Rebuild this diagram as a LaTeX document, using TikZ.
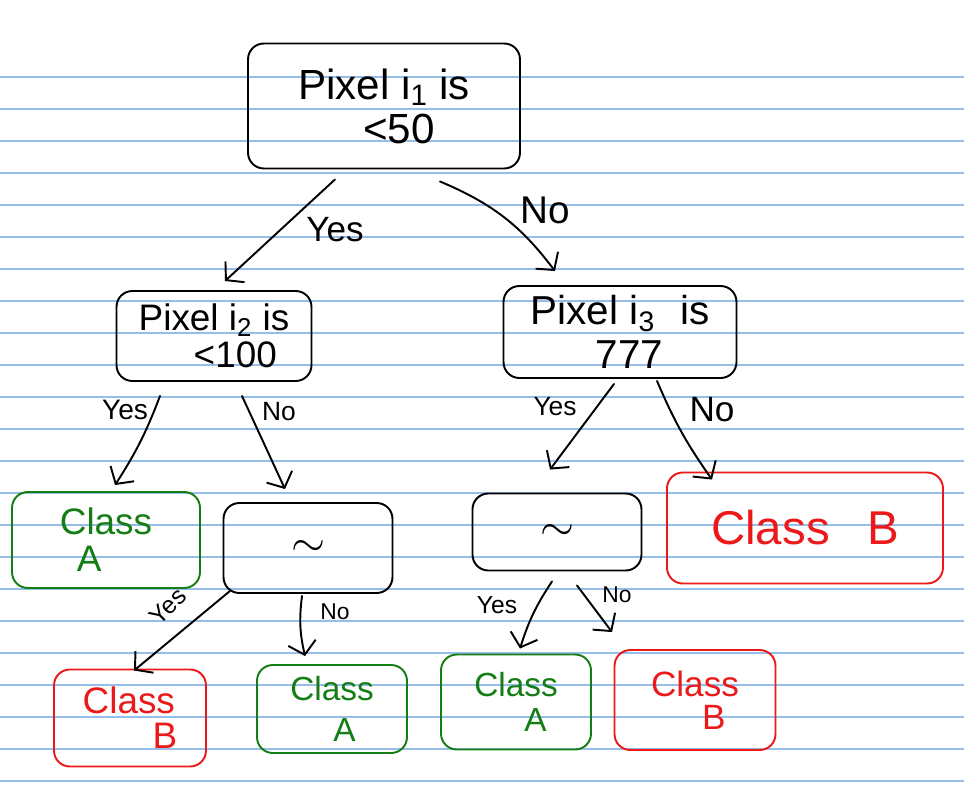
\documentclass[tikz,border=0pt]{standalone}
\usepackage{fontspec}
\setmainfont{Liberation Sans}
\usetikzlibrary{arrows.meta}

\definecolor{ruleblue}{RGB}{150,190,235}
\definecolor{leafgreen}{RGB}{20,125,20}
\definecolor{leafred}{RGB}{235,25,25}

\begin{document}
\begin{tikzpicture}[
    x=0.02cm, y=-0.02cm,
    %% linky papiera
    ruled/.style={draw=ruleblue, line width=0.6pt},
    %% rozhodovací uzol
    box/.style={
        draw, line width=1.1pt, rounded corners=9pt, inner sep=0pt, align=left
    },
    leafA/.style={box, draw=leafgreen, text=leafgreen},
    leafB/.style={box, draw=leafred, text=leafred},
    %% hrana s ručnou šípkou
    arr/.style={draw, line width=1.1pt, line cap=round,
        -{Straight Barb[length=7pt, width=16pt, line width=1.1pt]}},
    lbl/.style={inner sep=0pt}
]

%% Pozadie — linajkový papier
\fill[white] (0,0) rectangle (964,791);
\useasboundingbox (0,0) rectangle (964,791);
\foreach \k in {0,...,22} {
    \draw[ruled] (0,{77+32*\k}) -- (964,{77+32*\k});
}

%% Koreň
\node[box, minimum width=5.44cm, minimum height=2.5cm,
      font=\fontsize{24}{25}\selectfont] (root) at (384,106)
    {Pixel i\textsubscript{1} is\\\hspace*{1.3cm}<50};

%% Druhá úroveň
\node[box, minimum width=3.9cm, minimum height=1.8cm,
      font=\fontsize{21}{21}\selectfont] (n2l) at (214,336)
    {Pixel i\textsubscript{2} is\\\hspace*{1.1cm}<100};
\node[box, minimum width=4.66cm, minimum height=1.84cm,
      font=\fontsize{23}{25}\selectfont] (n2r) at (620,332)
    {Pixel i\textsubscript{3}\hspace{0.5cm}is\\\hspace*{1.3cm}777};

%% Tretia úroveň
\node[leafA, minimum width=3.76cm, minimum height=1.92cm,
      font=\fontsize{21}{21}\selectfont] (a1) at (106,540)
    {Class\\\hspace*{0.34cm}A};
\node[box, minimum width=3.38cm, minimum height=1.8cm,
      font=\fontsize{58}{58}\selectfont] (t1) at (308,548) {$\sim$};
\node[box, minimum width=3.38cm, minimum height=1.54cm,
      font=\fontsize{58}{58}\selectfont] (t2) at (557,532) {$\sim$};
\node[leafB, minimum width=5.52cm, minimum height=2.22cm,
      font=\fontsize{27}{27}\selectfont] (b1) at (805,528)
    {Class\hspace{0.75cm}B};

%% Listy
\node[leafB, minimum width=3.04cm, minimum height=1.94cm,
      font=\fontsize{21}{20}\selectfont] (b2) at (130,718)
    {Class\\\hspace*{1.4cm}B};
\node[leafA, minimum width=3.0cm, minimum height=1.76cm,
      font=\fontsize{19}{23}\selectfont] (a2) at (332,709)
    {Class\\\hspace*{0.86cm}A};
\node[leafA, minimum width=3.0cm, minimum height=1.9cm,
      font=\fontsize{19}{20}\selectfont] (a3) at (516,702)
    {Class\\\hspace*{1.0cm}A};
\node[leafB, minimum width=3.22cm, minimum height=2.0cm,
      font=\fontsize{20}{19}\selectfont] (b3) at (695,700)
    {Class\\\hspace*{1.02cm}B};

%% Hrany z koreňa
\draw[arr] ([shift={(-49,10)}]root.south) -- ([shift={(11,-9)}]n2l.north);
\draw[arr] ([shift={(56,12)}]root.south) to[bend left=15] ([shift={(-65,-14)}]n2r.north);

%% Hrany z druhej úrovne
\draw[arr] ([shift={(-54,14)}]n2l.south) to[bend left=6] ([shift={(9,-6)}]a1.north);
\draw[arr] ([shift={(28,14)}]n2l.south) -- ([shift={(-23,-13)}]t1.north);
\draw[arr] ([shift={(-6,5)}]n2r.south) -- ([shift={(-7,-23)}]t2.north);
\draw[arr] ([shift={(37,2)}]n2r.south) to[bend right=6] ([shift={(-93,8)}]b1.north);

%% Hrany z tretej úrovne
\draw[arr] ([shift={(-78,-3)}]t1.south) -- ([shift={(4,2)}]b2.north);
\draw[arr] ([shift={(-6,2)}]t1.south) to[bend right=10] ([shift={(-27,-8)}]a2.north);
\draw[arr] ([shift={(-5,10)}]t2.south) to[bend right=8] ([shift={(4,-5)}]a3.north);
\draw[arr] ([shift={(20,14)}]t2.south) -- ([shift={(-83,-17)}]b3.north);

%% Popisy hrán
\node[lbl, font=\fontsize{20}{20}\selectfont] (yes1) at (335,230) {Yes};
\node[lbl, font=\fontsize{22}{22}\selectfont] (no1)  at (545,210) {No};
\node[lbl, font=\fontsize{16}{16}\selectfont] (yes2) at (125,410) {Yes};
\node[lbl, font=\fontsize{15}{15}\selectfont] (no2)  at (279,412) {No};
\node[lbl, font=\fontsize{15}{15}\selectfont] (yes3) at (555,407) {Yes};
\node[lbl, font=\fontsize{20}{20}\selectfont] (no3)  at (712,410) {No};
\node[lbl, font=\fontsize{14}{14}\selectfont, rotate=45] (yes4) at (168,606) {Yes};
\node[lbl, font=\fontsize{13}{13}\selectfont] (no4)  at (335,612) {No};
\node[lbl, font=\fontsize{14}{14}\selectfont] (yes5) at (497,605) {Yes};
\node[lbl, font=\fontsize{13}{13}\selectfont] (no5)  at (617,595) {No};

\end{tikzpicture}
\end{document}
